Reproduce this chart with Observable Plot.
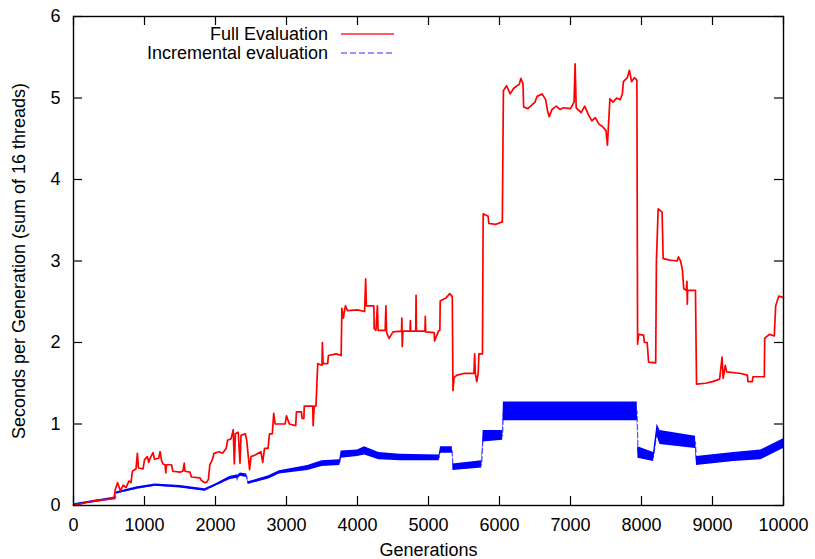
<!DOCTYPE html>
<html>
<head>
<meta charset="utf-8">
<script src="https://cdn.jsdelivr.net/npm/d3@7"></script>
<script src="https://cdn.jsdelivr.net/npm/@observablehq/plot@0.6"></script>
<style>
  html, body { margin: 0; padding: 0; background: #fff; }
  #wrap { position: relative; width: 815px; height: 559px; font-family: "Liberation Sans", Arial, Helvetica, sans-serif; }
  #legend { position: absolute; left: 0; top: 0; width: 815px; height: 70px; pointer-events: none; }
  .lrow { position: absolute; left: 0; width: 328px; text-align: right; font-size: 18px; line-height: 18px; color: #000; }
</style>
</head>
<body>
<div id="wrap">
  <div id="chart"></div>
  <div id="legend"></div>
</div>
<script>
// ---- Data ----
const seriesNames = ["Full Evaluation", "Incremental evaluation"];
const xLabel = "Generations";
const yLabel = "Seconds per Generation (sum of 16 threads)";
const xTicks = [0, 1000, 2000, 3000, 4000, 5000, 6000, 7000, 8000, 9000, 10000];
const yTicks = [0, 1, 2, 3, 4, 5, 6];

// Full evaluation: [generation, seconds]
const fullGen = [0,100,200,300,400,500,570,590,620,660,700,740,780,810,830,880,900,915,980,1000,1040,1060,1080,1120,1140,1200,1220,1240,1260,1290,1300,1310,1380,1400,1500,1540,1560,1570,1640,1660,1780,1800,1850,1880,1900,1920,1950,1980,2050,2100,2150,2170,2220,2250,2265,2280,2320,2345,2360,2420,2440,2480,2500,2560,2600,2640,2665,2690,2740,2760,2800,2820,2840,2980,3000,3040,3130,3140,3210,3220,3245,3250,3370,3375,3390,3415,3425,3440,3500,3505,3515,3580,3590,3700,3770,3780,3800,3830,3860,4000,4100,4115,4125,4230,4235,4260,4280,4290,4390,4400,4410,4445,4500,4620,4625,4630,4640,4740,4745,4750,4820,4825,4830,4950,4955,4960,5080,5085,5140,5160,5165,5250,5300,5335,5345,5360,5400,5500,5640,5650,5660,5680,5700,5710,5760,5770,5840,5850,5950,6040,6055,6100,6150,6200,6280,6300,6330,6340,6400,6450,6500,6530,6600,6650,6675,6700,6740,6800,6850,6900,7000,7050,7065,7080,7150,7200,7250,7300,7350,7400,7450,7500,7520,7555,7600,7650,7700,7730,7745,7800,7830,7860,7900,7935,7945,7960,8030,8040,8080,8100,8200,8210,8235,8290,8305,8400,8500,8520,8550,8575,8595,8630,8640,8645,8650,8760,8775,8900,9000,9100,9135,9150,9180,9200,9400,9490,9500,9560,9570,9730,9735,9800,9870,9890,9935,10000];
const fullSec = [0.01,0.02,0.04,0.06,0.07,0.08,0.09,0.20,0.28,0.18,0.25,0.22,0.30,0.28,0.42,0.45,0.64,0.46,0.45,0.56,0.60,0.53,0.58,0.65,0.57,0.58,0.66,0.55,0.51,0.50,0.40,0.50,0.50,0.42,0.41,0.42,0.52,0.42,0.41,0.35,0.34,0.31,0.28,0.29,0.32,0.50,0.55,0.64,0.66,0.64,0.70,0.80,0.82,0.93,0.51,0.88,0.90,0.52,0.86,0.88,0.80,0.44,0.60,0.62,0.64,0.66,0.53,0.70,0.70,0.88,0.88,1.13,1.00,1.00,1.10,1.00,0.98,1.15,1.15,1.07,1.07,1.22,1.22,0.98,1.22,1.22,1.43,1.74,1.72,2.00,1.74,1.74,1.84,1.86,1.84,2.42,2.30,2.45,2.39,2.40,2.38,2.78,2.45,2.45,2.17,2.15,2.45,2.15,2.15,2.45,2.12,2.05,2.13,2.14,2.30,1.95,2.14,2.14,2.27,2.14,2.14,2.58,2.14,2.14,2.32,2.13,2.12,2.02,2.14,2.15,2.51,2.55,2.60,2.56,1.41,1.57,1.60,1.62,1.62,1.86,1.62,1.52,1.62,1.86,1.86,3.58,3.55,3.46,3.45,3.48,5.09,5.15,5.05,5.12,5.17,5.24,5.18,4.89,4.87,4.91,4.95,5.02,5.05,4.98,4.85,4.77,4.86,4.90,4.86,4.88,4.87,4.95,5.42,4.88,4.82,4.90,4.80,4.72,4.76,4.68,4.65,4.60,4.42,4.99,4.95,5.00,4.98,5.05,5.20,5.25,5.34,5.20,5.25,5.22,1.98,2.10,2.09,2.00,2.00,1.76,1.75,3.00,3.64,3.60,3.03,3.01,3.00,3.05,3.00,2.90,2.66,2.64,2.75,2.47,2.64,2.64,1.49,1.50,1.52,1.55,1.82,1.56,1.72,1.64,1.62,1.60,1.52,1.52,1.58,1.58,2.05,2.10,2.08,2.45,2.57,2.55];

// Incremental evaluation: generation, lower and upper edge of the noisy trace
const incGen = [0,570,590,600,900,1150,1500,1850,2000,2200,2300,2310,2320,2350,2440,2460,2750,2900,3300,3500,3750,3770,4000,4100,4300,4600,5150,5170,5335,5345,5750,5770,6045,6055,7940,7950,8170,8220,8260,8760,8775,9300,9680,10000];
const incLo  = [0.00,0.07,0.07,0.14,0.20,0.235,0.215,0.175,0.235,0.315,0.335,0.29,0.335,0.36,0.345,0.26,0.325,0.385,0.43,0.48,0.49,0.58,0.60,0.62,0.56,0.55,0.55,0.64,0.64,0.43,0.46,0.78,0.80,1.04,1.04,0.58,0.54,0.85,0.75,0.70,0.49,0.54,0.56,0.70];
const incHi  = [0.02,0.10,0.10,0.165,0.23,0.265,0.245,0.205,0.265,0.355,0.375,0.375,0.375,0.40,0.385,0.29,0.365,0.425,0.49,0.55,0.56,0.67,0.68,0.72,0.65,0.63,0.62,0.72,0.72,0.51,0.55,0.92,0.92,1.27,1.27,0.72,0.65,1.00,0.92,0.85,0.60,0.65,0.68,0.82];

// ---- Tables built from the arrays ----
const full = fullGen.map((g, i) => ({gen: g, sec: fullSec[i]}));
const inc = incGen.map((g, i) => ({gen: g, lo: incLo[i], hi: incHi[i], mid: (incLo[i] + incHi[i]) / 2}));

const W = 815, H = 559;
const mL = 73, mR = 32, mT = 16, mB = 54;
const pxPerGen = (W - mL - mR) / 10000;
const pxPerSec = (H - mT - mB) / 6;
const tickLen = 9;

const chart = Plot.plot({
  width: W,
  height: H,
  marginLeft: mL,
  marginRight: mR,
  marginTop: mT,
  marginBottom: mB,
  style: {fontFamily: '"Liberation Sans", Arial, Helvetica, sans-serif', fontSize: "18px", background: "#fff", color: "#000"},
  x: {domain: [0, 10000], ticks: xTicks, label: null},
  y: {domain: [0, 6], ticks: yTicks, label: null},
  marks: [
    Plot.areaY(inc, {x: "gen", y1: "lo", y2: "hi", fill: "#0000ff", curve: "linear"}),
    Plot.line(inc, {x: "gen", y: "mid", stroke: "#0000ff", strokeWidth: 1.2, strokeDasharray: "5,3", strokeOpacity: 0.6}),
    Plot.line(full, {x: "gen", y: "sec", stroke: "#ff0000", strokeWidth: 1.7}),
    Plot.frame({stroke: "#000", strokeWidth: 1.4}),
    // inward ticks (bottom, top, left, right)
    Plot.ruleX(xTicks, {y1: 0, y2: tickLen / pxPerSec, stroke: "#000", strokeWidth: 1.2}),
    Plot.ruleX(xTicks, {y1: 6, y2: 6 - tickLen / pxPerSec, stroke: "#000", strokeWidth: 1.2}),
    Plot.ruleY(yTicks, {x1: 0, x2: tickLen / pxPerGen, stroke: "#000", strokeWidth: 1.2}),
    Plot.ruleY(yTicks, {x1: 10000, x2: 10000 - tickLen / pxPerGen, stroke: "#000", strokeWidth: 1.2}),
    Plot.axisX({ticks: xTicks, tickSize: 0, tickPadding: 13, tickFormat: d => String(d), label: null}),
    Plot.axisY({ticks: yTicks, tickSize: 0, tickPadding: 13, tickFormat: d => String(d), label: null}),
    Plot.text([xLabel], {text: d => d, frameAnchor: "bottom", dy: 44.5, lineAnchor: "middle", textAnchor: "middle", fontSize: 18, fill: "#000"}),
    Plot.text([yLabel], {text: d => d, frameAnchor: "left", dx: -54.5, rotate: -90, lineAnchor: "middle", textAnchor: "middle", fontSize: 18, fill: "#000"})
  ]
});
document.getElementById("chart").appendChild(chart);

// ---- Legend (top-left, inside the frame) ----
const legend = document.getElementById("legend");
const legendStyles = [
  {stroke: "#ff0000", dash: null, opacity: 0.85},
  {stroke: "#0000ff", dash: "6,3", opacity: 0.55}
];
seriesNames.forEach((name, i) => {
  const cy = 34 + i * 19;
  const row = document.createElement("div");
  row.className = "lrow";
  row.style.top = (cy - 9) + "px";
  row.textContent = name;
  legend.appendChild(row);
  const svgNS = "http://www.w3.org/2000/svg";
  const sw = document.createElementNS(svgNS, "svg");
  sw.setAttribute("width", 60);
  sw.setAttribute("height", 10);
  sw.style.position = "absolute";
  sw.style.left = "339px";
  sw.style.top = (cy - 5) + "px";
  const ln = document.createElementNS(svgNS, "line");
  ln.setAttribute("x1", 2); ln.setAttribute("x2", 55);
  ln.setAttribute("y1", 5); ln.setAttribute("y2", 5);
  ln.setAttribute("stroke", legendStyles[i].stroke);
  ln.setAttribute("stroke-opacity", legendStyles[i].opacity);
  ln.setAttribute("stroke-width", 1.3);
  if (legendStyles[i].dash) ln.setAttribute("stroke-dasharray", legendStyles[i].dash);
  sw.appendChild(ln);
  legend.appendChild(sw);
});
</script>
</body>
</html>
